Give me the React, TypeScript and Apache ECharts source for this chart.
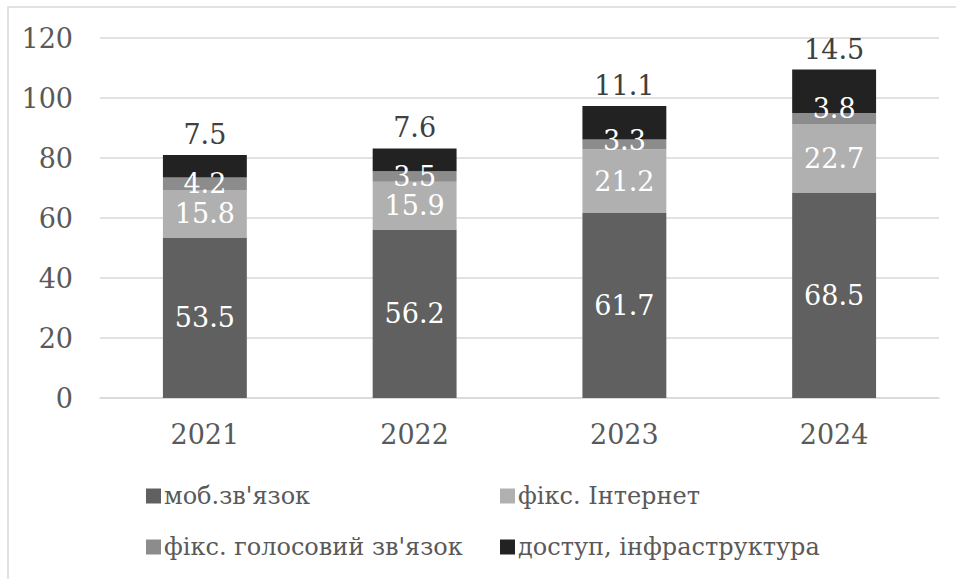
import React, { useEffect, useRef } from "react";
import * as echarts from "echarts";

const categories = ["2021", "2022", "2023", "2024"];
const seriesNames = ["моб.зв'язок", "фікс. Інтернет", "фікс. голосовий зв'язок", "доступ, інфраструктура"];
const mobile = [53.5, 56.2, 61.7, 68.5];
const internet = [15.8, 15.9, 21.2, 22.7];
const voice = [4.2, 3.5, 3.3, 3.8];
const access = [7.5, 7.6, 11.1, 14.5];
const colors = ["#606060", "#b0b0b0", "#8c8c8c", "#222222"];
const yTicks = { min: 0, max: 120, interval: 20 };

const FONT = "DejaVu Serif";

export default function App() {
  const ref = useRef<HTMLDivElement>(null);
  useEffect(() => {
    if (!ref.current) return;
    const chart = echarts.init(ref.current, undefined, { renderer: "svg" });
    const values = [mobile, internet, voice, access];
    const voiceOffsets = [0, 0, -4, -10];
    const series = seriesNames.map((name, i) => ({
      name,
      type: "bar",
      stack: "total",
      barWidth: "40%",
      data:
        i === 2
          ? values[i].map((v, j) => ({ value: v, label: { offset: [0, voiceOffsets[j]] } }))
          : values[i],
      itemStyle: { color: colors[i] },
      label: {
        show: true,
        position: i === 3 ? "top" : "inside",
        distance: 7,
        color: i === 3 ? "#404040" : "#ffffff",
        fontFamily: FONT,
        fontSize: 27,
        formatter: (p: any) => String(p.value),
      },
    }));
    const legendPos = [
      { left: 141, top: 479 },
      { left: 495, top: 479 },
      { left: 141, top: 530 },
      { left: 495, top: 530 },
    ];
    chart.setOption({
      animation: false,
      backgroundColor: "#ffffff",
      grid: { left: 100, right: 17, top: 38, bottom: 181 },
      legend: seriesNames.map((n, i) => ({
        data: [n],
        left: legendPos[i].left,
        top: legendPos[i].top,
        itemWidth: 15,
        itemHeight: 15,
        itemGap: 0,
        icon: "rect",
        textStyle: { fontFamily: FONT, fontSize: 24, color: "#595959", padding: [0, 0, 0, -2] },
        selectedMode: false,
      })),
      xAxis: {
        type: "category",
        data: categories,
        axisLine: { lineStyle: { color: "#d9d9d9", width: 1.5 } },
        axisTick: { show: false },
        axisLabel: { fontFamily: FONT, fontSize: 27, color: "#595959", margin: 23 },
      },
      yAxis: {
        type: "value",
        min: yTicks.min,
        max: yTicks.max,
        interval: yTicks.interval,
        axisLine: { show: false },
        axisTick: { show: false },
        splitLine: { lineStyle: { color: "#d9d9d9", width: 1.5 } },
        axisLabel: { fontFamily: FONT, fontSize: 27, color: "#595959", margin: 27 },
      },
      graphic: [
        {
          type: "rect",
          shape: { x: 8, y: 7, width: 960, height: 600 },
          style: { fill: "none", stroke: "#d9d9d9", lineWidth: 1.5 },
          silent: true,
        },
      ],
      series,
    });
    return () => chart.dispose();
  }, []);
  return (
    <div
      ref={ref}
      style={{ position: "fixed", left: 0, top: 0, width: 956, height: 579 }}
    />
  );
}
